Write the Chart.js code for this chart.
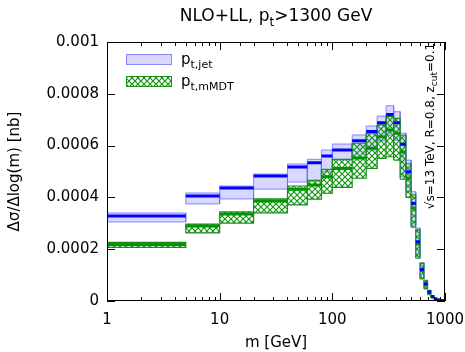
<!DOCTYPE html>
<html>
<head>
<meta charset="utf-8">
<script src="https://cdn.jsdelivr.net/npm/chart.js@4.4.1/dist/chart.umd.min.js"></script>
<style>
    html, body { margin: 0; padding: 0; background: #fff; }
</style>
</head>
<body>
<canvas id="massChart" width="465" height="352"></canvas>
<script>
// bins in m [GeV]
const binLow  = [1, 5, 10, 20, 40, 60, 80, 100, 150, 200, 250, 300, 350, 400, 450, 500, 550, 600, 650, 700, 750, 800, 850, 900, 950]
const binHigh = [5, 10, 20, 40, 60, 80, 100, 150, 200, 250, 300, 350, 400, 450, 500, 550, 600, 650, 700, 750, 800, 850, 900, 950, 1000]

// pt,jet : central value and uncertainty band [nb]
const jetCentral = [3.28e-4, 4.05e-4, 4.36e-4, 4.83e-4, 5.17e-4, 5.34e-4, 5.60e-4, 5.83e-4, 6.19e-4, 6.54e-4, 6.88e-4, 7.20e-4, 6.88e-4, 6.05e-4, 4.99e-4, 3.77e-4, 2.29e-4, 1.22e-4, 0.66e-4, 0.35e-4, 0.17e-4, 0.08e-4, 0.04e-4, 0.02e-4, 0.01e-4]
const jetHigh    = [3.40e-4, 4.17e-4, 4.44e-4, 4.90e-4, 5.29e-4, 5.47e-4, 5.83e-4, 6.06e-4, 6.41e-4, 6.76e-4, 7.14e-4, 7.54e-4, 7.31e-4, 6.48e-4, 5.44e-4, 4.22e-4, 2.82e-4, 1.48e-4, 0.81e-4, 0.42e-4, 0.21e-4, 0.10e-4, 0.05e-4, 0.025e-4, 0.012e-4]
const jetLow     = [3.05e-4, 3.75e-4, 3.94e-4, 4.32e-4, 4.59e-4, 4.67e-4, 4.99e-4, 5.45e-4, 5.52e-4, 5.83e-4, 6.18e-4, 6.40e-4, 6.20e-4, 4.80e-4, 4.22e-4, 2.93e-4, 1.70e-4, 0.88e-4, 0.49e-4, 0.27e-4, 0.13e-4, 0.06e-4, 0.03e-4, 0.015e-4, 0.008e-4]

// pt,mMDT
const mmdtCentral = [2.18e-4, 2.90e-4, 3.36e-4, 3.86e-4, 4.31e-4, 4.48e-4, 4.80e-4, 5.12e-4, 5.52e-4, 5.90e-4, 6.34e-4, 6.60e-4, 6.48e-4, 5.75e-4, 4.75e-4, 3.59e-4, 2.20e-4, 1.18e-4, 0.63e-4, 0.33e-4, 0.16e-4, 0.08e-4, 0.04e-4, 0.02e-4, 0.01e-4]
const mmdtHigh    = [2.26e-4, 2.97e-4, 3.44e-4, 3.94e-4, 4.44e-4, 4.65e-4, 5.08e-4, 5.47e-4, 6.09e-4, 6.48e-4, 6.80e-4, 7.12e-4, 7.05e-4, 6.40e-4, 5.30e-4, 4.10e-4, 2.75e-4, 1.45e-4, 0.78e-4, 0.40e-4, 0.20e-4, 0.10e-4, 0.05e-4, 0.024e-4, 0.012e-4]
const mmdtLow     = [2.07e-4, 2.63e-4, 3.01e-4, 3.40e-4, 3.71e-4, 3.93e-4, 4.16e-4, 4.39e-4, 4.74e-4, 5.12e-4, 5.51e-4, 5.57e-4, 5.44e-4, 4.70e-4, 4.00e-4, 2.85e-4, 1.65e-4, 0.85e-4, 0.47e-4, 0.25e-4, 0.12e-4, 0.06e-4, 0.03e-4, 0.014e-4, 0.007e-4]

const xTickLabels = [1, 10, 100, 1000]
const yTickLabels = ['0', '0.0002', '0.0004', '0.0006', '0.0008', '0.001']

const colors = {
    jetLine: 'rgb(0,0,255)',
    jetFill: 'rgba(140,140,255,0.35)',
    jetEdge: 'rgba(110,110,255,0.8)',
    mmdtLine: 'rgb(0,150,0)',
    mmdtHatch: 'rgb(20,150,20)',
    mmdtEdge: 'rgb(30,140,30)',
}

document.addEventListener('DOMContentLoaded', function(){
    Chart.defaults.font.family = "'DejaVu Sans', sans-serif"
    Chart.defaults.color = '#000'
    const hatch = makeHatch(colors.mmdtHatch)
    const canvas = document.getElementById('massChart').getContext('2d')
    createMassChart(canvas, hatch)
});

function makeHatch(color) {
    const tile = document.createElement('canvas')
    tile.width = 6
    tile.height = 6
    const g = tile.getContext('2d')
    g.strokeStyle = color
    g.lineWidth = 1.2
    g.beginPath()
    g.moveTo(-1, -1); g.lineTo(7, 7)
    g.moveTo(7, -1); g.lineTo(-1, 7)
    g.stroke()
    return g.createPattern(tile, 'repeat')
}

// horizontal segment per bin, null point breaks the line between bins
function flatSteps(values) {
    const points = []
    for (let i = 0; i < binLow.length; i++) {
        points.push({x: binLow[i], y: values[i]}, {x: binHigh[i], y: values[i]}, {x: binHigh[i], y: null})
    }
    return points
}

// closed outline of each band box
function boxEdges(lo, hi) {
    const points = []
    for (let i = 0; i < binLow.length; i++) {
        points.push(
            {x: binLow[i], y: lo[i]}, {x: binLow[i], y: hi[i]},
            {x: binHigh[i], y: hi[i]}, {x: binHigh[i], y: lo[i]},
            {x: binLow[i], y: lo[i]}, {x: binHigh[i], y: null}
        )
    }
    return points
}

function drawParts(ctx, x, y, parts, size, align) {
    // parts: [text, isSub]
    const subSize = Math.round(size * 0.72)
    let width = 0
    for (const [text, sub] of parts) {
        ctx.font = (sub ? subSize : size) + "px 'DejaVu Sans'"
        width += ctx.measureText(text).width
    }
    let cx = align === 'center' ? x - width / 2 : x
    ctx.textBaseline = 'alphabetic'
    ctx.textAlign = 'left'
    for (const [text, sub] of parts) {
        ctx.font = (sub ? subSize : size) + "px 'DejaVu Sans'"
        ctx.fillText(text, cx, sub ? y + size * 0.28 : y)
        cx += ctx.measureText(text).width
    }
}

const framePlugin = {
    id: 'frame',
    afterDraw(chart, args, opts) {
        const ctx = chart.ctx
        const area = chart.chartArea
        const xs = chart.scales.x
        const ys = chart.scales.y
        ctx.save()
        ctx.strokeStyle = '#000'
        ctx.lineWidth = 1
        ctx.strokeRect(Math.round(area.left) + 0.5, Math.round(area.top) + 0.5, Math.round(area.width) - 1, Math.round(area.height) - 1)
        ctx.beginPath()
        for (const tick of xs.ticks) {
            const px = Math.round(xs.getPixelForValue(tick.value)) + 0.5
            const major = xTickLabels.includes(tick.value)
            const len = major ? 8 : 4
            ctx.moveTo(px, area.bottom); ctx.lineTo(px, area.bottom - len)
            ctx.moveTo(px, area.top); ctx.lineTo(px, area.top + len)
        }
        for (const tick of ys.ticks) {
            const py = Math.round(ys.getPixelForValue(tick.value)) + 0.5
            ctx.moveTo(area.left, py); ctx.lineTo(area.left + 8, py)
            ctx.moveTo(area.right, py); ctx.lineTo(area.right - 8, py)
        }
        ctx.stroke()

        // title
        ctx.fillStyle = '#000'
        drawParts(ctx, (area.left + area.right) / 2, 21, [['NLO+LL, p', false], ['t', true], ['>1300 GeV', false]], 17, 'center')

        // legend
        ctx.fillStyle = colors.jetFill
        ctx.fillRect(126, 54, 45, 10)
        ctx.strokeStyle = colors.jetEdge
        ctx.strokeRect(126.5, 54.5, 45, 10)
        ctx.fillStyle = opts.hatch
        ctx.fillRect(126, 76, 45, 10)
        ctx.strokeStyle = colors.mmdtEdge
        ctx.strokeRect(126.5, 76.5, 45, 10)
        ctx.fillStyle = '#000'
        drawParts(ctx, 181, 64, [['p', false], ['t,jet', true]], 15, 'left')
        drawParts(ctx, 181, 86, [['p', false], ['t,mMDT', true]], 15, 'left')

        // rotated annotation
        ctx.translate(434, 126)
        ctx.rotate(-Math.PI / 2)
        drawParts(ctx, 0, 0, [['\u221As=13 TeV, R=0.8, z', false], ['cut', true], ['=0.1', false]], 12, 'center')
        ctx.restore()
    }
}

function createMassChart(canvas, hatch) {
    new Chart(canvas, {
        type: 'line',
        data: {
            datasets: [{
                label: 'jet high',
                data: flatSteps(jetHigh),
                borderWidth: 0,
                pointRadius: 0,
                fill: false,
                order: 10,
            }, {
                label: 'pt,jet band',
                data: flatSteps(jetLow),
                borderWidth: 0,
                pointRadius: 0,
                backgroundColor: colors.jetFill,
                fill: '-1',
                order: 9,
            }, {
                label: 'jet edges',
                data: boxEdges(jetLow, jetHigh),
                borderColor: colors.jetEdge,
                borderWidth: 1,
                pointRadius: 0,
                fill: false,
                order: 8,
            }, {
                label: 'mmdt high',
                data: flatSteps(mmdtHigh),
                borderWidth: 0,
                pointRadius: 0,
                fill: false,
                order: 7,
            }, {
                label: 'pt,mMDT band',
                data: flatSteps(mmdtLow),
                borderWidth: 0,
                pointRadius: 0,
                backgroundColor: hatch,
                fill: '-1',
                order: 6,
            }, {
                label: 'mmdt edges',
                data: boxEdges(mmdtLow, mmdtHigh),
                borderColor: colors.mmdtEdge,
                borderWidth: 1.2,
                pointRadius: 0,
                fill: false,
                order: 5,
            }, {
                label: 'pt,mMDT',
                data: flatSteps(mmdtCentral),
                borderColor: colors.mmdtLine,
                borderWidth: 3,
                pointRadius: 0,
                fill: false,
                order: 2,
            }, {
                label: 'pt,jet',
                data: flatSteps(jetCentral),
                borderColor: colors.jetLine,
                borderWidth: 3,
                pointRadius: 0,
                fill: false,
                order: 1,
            }]
        },
        options: {
            responsive: false,
            animation: false,
            spanGaps: false,
            layout: {
                padding: {left: 0, top: 42, right: 20, bottom: 0}
            },
            scales: {
                x: {
                    type: 'logarithmic',
                    min: 1,
                    max: 1000,
                    grid: {display: false, drawTicks: false},
                    border: {display: false},
                    ticks: {
                        autoSkip: false,
                        maxRotation: 0,
                        padding: 10,
                        font: {size: 15},
                        callback: function(value) {
                            return xTickLabels.includes(value) ? String(value) : ''
                        }
                    },
                    title: {display: true, text: 'm [GeV]', font: {size: 15}, padding: {top: 8, bottom: 0}},
                    afterFit: function(scale) {
                        scale.height = 51
                        scale.paddingLeft = 0
                        scale.paddingRight = 0
                    }
                },
                y: {
                    min: 0,
                    max: 0.001,
                    grid: {display: false, drawTicks: false},
                    border: {display: false},
                    ticks: {
                        stepSize: 0.0002,
                        padding: 8,
                        font: {size: 15},
                        callback: function(value) {
                            return yTickLabels[Math.round(value / 0.0002)]
                        }
                    },
                    title: {display: true, text: '\u0394\u03c3/\u0394log(m) [nb]', font: {size: 15}, padding: {top: 6, bottom: 4}},
                    afterFit: function(scale) {
                        scale.width = 107
                        scale.paddingTop = 0
                        scale.paddingBottom = 0
                    }
                }
            },
            plugins: {
                legend: {display: false},
                tooltip: {enabled: false},
                frame: {hatch: hatch}
            }
        },
        plugins: [framePlugin]
    });
}
</script>
</body>
</html>
